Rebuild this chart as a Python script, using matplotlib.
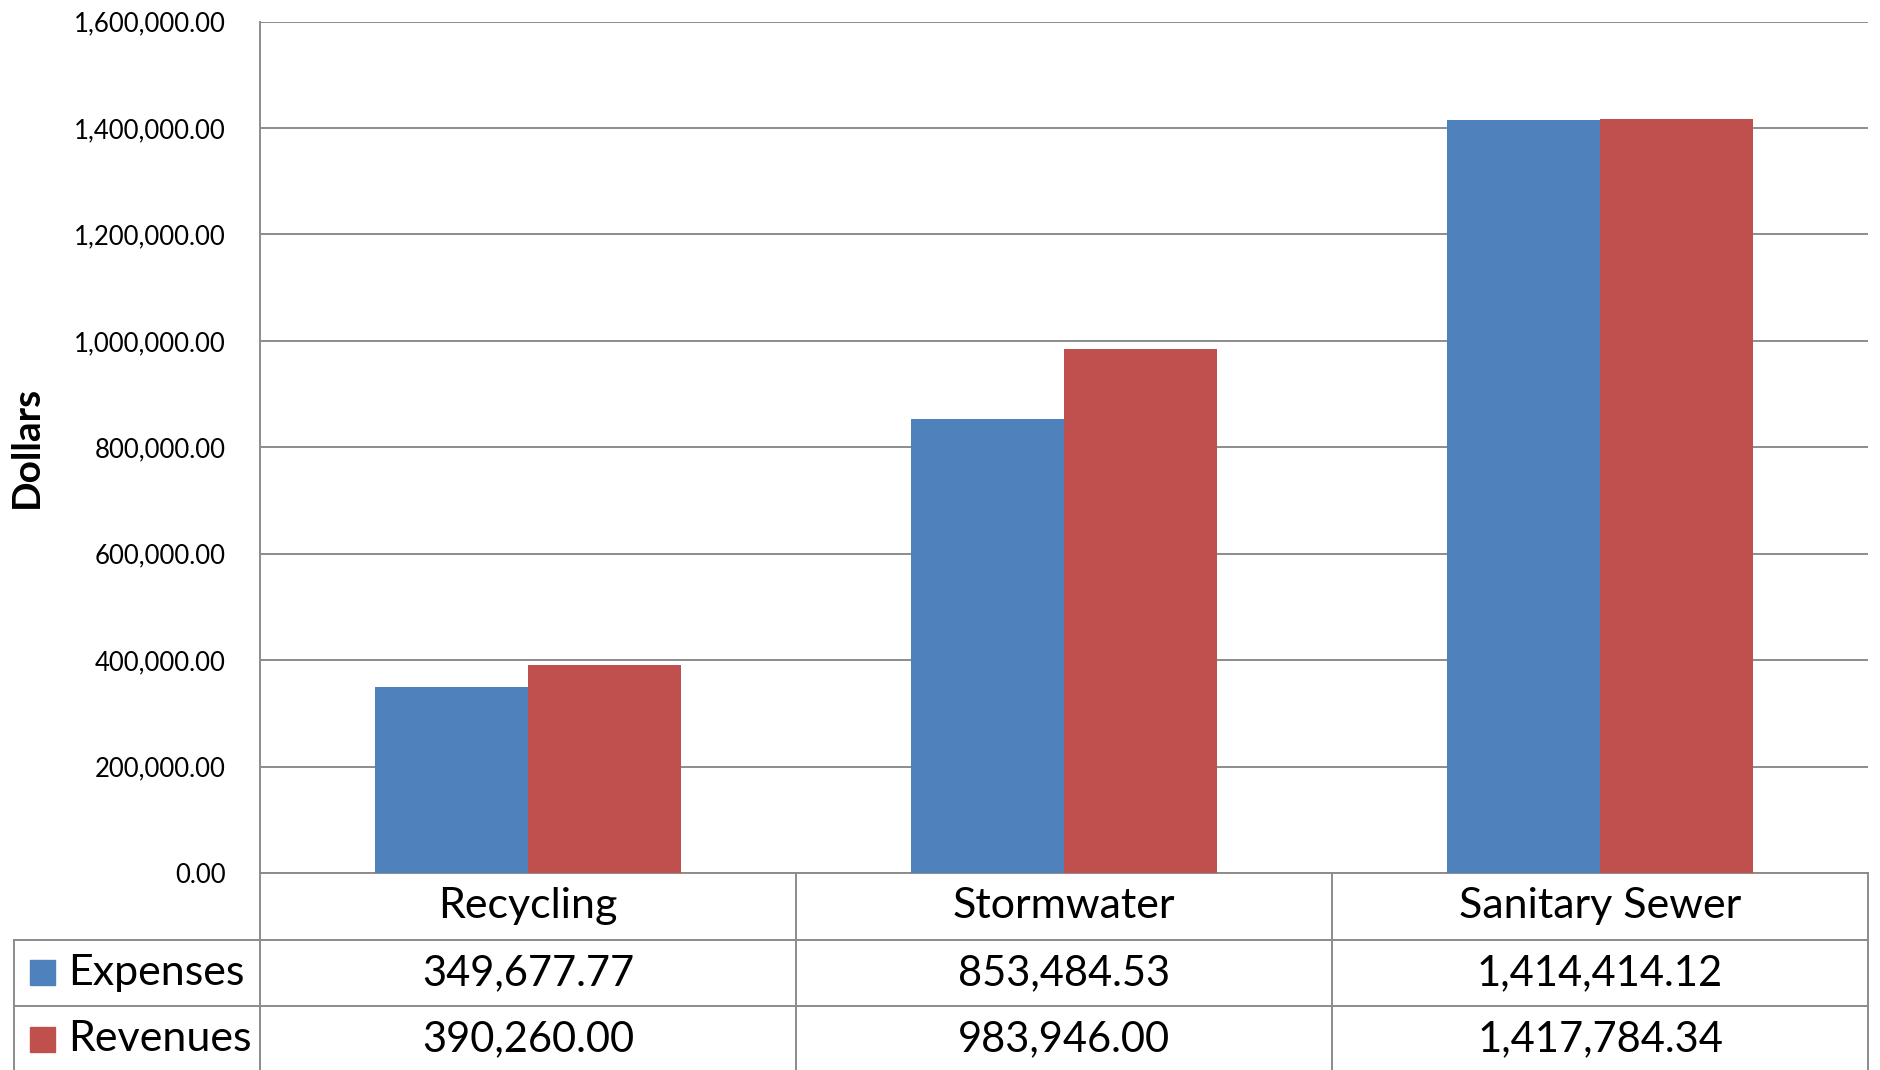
import matplotlib
matplotlib.use("Agg")
import matplotlib.pyplot as plt
import numpy as np
from matplotlib.ticker import FuncFormatter
from matplotlib.transforms import blended_transform_factory
from matplotlib.patches import Rectangle

categories = ["Recycling", "Stormwater", "Sanitary Sewer"]
series_names = ["Expenses", "Revenues"]
expenses = [349677.77, 853484.53, 1414414.12]
revenues = [390260.00, 983946.00, 1417784.34]
colors = ["#4F81BD", "#C0504D"]
line_color = "#8C8C8C"

plt.rcParams["font.family"] = ["Lato", "DejaVu Sans"]

fig = plt.figure(figsize=(18.8, 10.7), dpi=100)
W, H = 1880, 1070
left, right, top, bottom = 260, 1868, 21.6, 873
ax = fig.add_axes([left / W, (H - bottom) / H, (right - left) / W, (bottom - top) / H])

x = np.arange(len(categories))
width = 0.285
ax.bar(x - width / 2, expenses, width, color=colors[0], label=series_names[0], zorder=3)
ax.bar(x + width / 2, revenues, width, color=colors[1], label=series_names[1], zorder=3)

ax.set_xlim(-0.5, len(categories) - 0.5)
ax.set_ylim(0, 1600000)
ax.set_yticks(np.arange(0, 1600001, 200000))
ax.yaxis.set_major_formatter(FuncFormatter(lambda v, p: "{:,.2f}".format(v)))
ax.tick_params(axis="y", length=0, pad=24.5, labelsize=18.5)
ax.set_xticks([])
ax.grid(axis="y", color=line_color, linewidth=1.4, zorder=0)
for s in ["top", "right"]:
    ax.spines[s].set_visible(False)
for s in ["left", "bottom"]:
    ax.spines[s].set_color(line_color)
    ax.spines[s].set_linewidth(1.4)
ax.set_ylabel("Dollars", fontsize=28, fontweight="bold")
ax.yaxis.set_label_coords((44 - left) / (right - left), 0.5)

# data table below the plot
ah = bottom - top
row_h = 66.5 / ah
tr = blended_transform_factory(ax.transData, ax.transAxes)
tab_left = (14 - left) / (right - left)
n_rows = 3
y_bottom = -(H - bottom) / ah
kw = dict(color=line_color, linewidth=1.4, clip_on=False)

# vertical lines between categories
for b in np.arange(len(categories) + 1) - 0.5:
    ax.plot([b, b], [0, y_bottom], transform=tr, **kw)
# horizontal row lines
for r in range(1, n_rows):
    ax.plot([tab_left, 1.0], [-r * row_h, -r * row_h], transform=ax.transAxes, **kw)
ax.plot([tab_left, tab_left], [-row_h, y_bottom], transform=ax.transAxes, **kw)

for i, c in enumerate(categories):
    ax.text(i, -0.5 * row_h, c, transform=tr, ha="center", va="center", fontsize=31)

for r, (name, vals) in enumerate(zip(series_names, [expenses, revenues])):
    yc = -(r + 1.5) * row_h
    for i, v in enumerate(vals):
        ax.text(i, yc, "{:,.2f}".format(v), transform=tr, ha="center", va="center", fontsize=30)
    sq = 25 / (right - left)
    sqh = 25 / ah
    ax.add_patch(Rectangle(((30 - left) / (right - left), yc - sqh / 2), sq, sqh,
                           transform=ax.transAxes, color=colors[r], clip_on=False))
    ax.text((68 - left) / (right - left), yc, name, transform=ax.transAxes,
            ha="left", va="center", fontsize=31)

fig.savefig("out.png", dpi=100, facecolor="white")
